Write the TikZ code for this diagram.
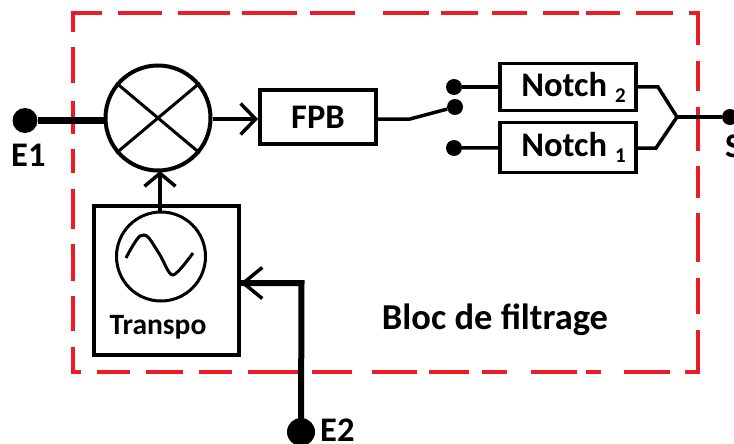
\documentclass[tikz,border=0pt]{standalone}
\usepackage{fontspec}
\setmainfont{Carlito}
\usetikzlibrary{arrows.meta}
\definecolor{mRed}{HTML}{ED1C24}
\tikzset{
  blockbox/.style={draw, line width=4pt, inner sep=0pt, font=\fontsize{34.5}{34.5}\bfseries\selectfont},
  notchbox/.style={draw, line width=3.5pt, inner sep=0pt, minimum width=136pt, font=\fontsize{34.5}{34.5}\bfseries\selectfont},
  terminal/.style={circle, fill=black, inner sep=0pt, minimum size=#1},
  barb/.style={-{Straight Barb[length=#1,width=31pt,line width=3.5pt]}},
  wire/.style={line width=3.5pt},
  frameline/.style={mRed, line width=4pt},
  pinlabel/.style={font=\fontsize{34.5}{34.5}\bfseries\selectfont, anchor=base west, inner sep=0pt}
}
\newcommand{\notchtext}[1]{\hspace{11pt}Notch\hspace{8pt}\raisebox{-6pt}{\fontsize{21}{21}\selectfont #1}}
\begin{document}
\begin{tikzpicture}[x=1pt, y=-1pt]
    \clip (0,0) rectangle (734,444);
    \useasboundingbox (0,0) rectangle (734,444);
    % hand drawn frame
    \draw[frameline] (73,32) -- (73,13.5) -- (102,13.5);
    \draw[frameline] (689,13.5) -- (698,13.5) -- (698,45);
    \draw[frameline] (685,372) -- (698,372) -- (698,330);
    \draw[frameline] (73,347) -- (73,372) -- (81,372);
    \foreach \a/\b in {118/162,178/230,242/297,310/355,383/429,441/478,492/527,543/579,586/620,636/673}
      \draw[frameline] (\a,13.5) -- (\b,13.5);
    \foreach \a/\b in {97/130,146/183,199/232,248/302,312/352,372/417,429/469,482/507,531/577,586/601,624/670}
      \draw[frameline] (\a,372) -- (\b,372);
    \foreach \a/\b in {47/83,101/134,149/173,189/229,244/281,296/331}
      \draw[frameline] (73,\a) -- (73,\b);
    \foreach \a/\b in {61/91,107/151,166/198,213/262,278/314}
      \draw[frameline] (698,\a) -- (698,\b);
    % blocks
    \node[circle, draw, line width=4pt, inner sep=0pt, minimum size=105pt] (mixer) at (158,118) {};
    \node[blockbox, minimum width=116pt, minimum height=54pt] (fpb) at (318,117) {FPB};
    \node[draw, line width=4pt, minimum width=145pt, minimum height=149pt] (transpo) at (166,280) {};
    \node[circle, draw, line width=3pt, inner sep=0pt, minimum size=89pt] (osc) at (161,256.5) {};
    \node[font=\fontsize{29.5}{29.5}\bfseries\selectfont, anchor=base] (transpotext) at (158,334) {Transpo};
    \node[notchbox, minimum height=47pt] (notchB) at (568,87) {\notchtext{2}};
    \node[notchbox, minimum height=50pt] (notchA) at (568,147.5) {\notchtext{1}};
    \draw[line width=3pt] (mixer.140) -- (mixer.-40);
    \draw[line width=3pt] (mixer.40) -- (mixer.-140);
    \draw[line width=3pt] plot[smooth, tension=0.5] coordinates {(126,258) (132,247) (140,236) (148,237) (160,255) (173,275) (193,253)};
    % terminals
    \node[terminal=25pt] (e1) at (25,120.5) {};
    \node[terminal=28pt] (e2) at (301,432) {};
    \node[terminal=16pt] (s) at (730,117) {};
    \node[terminal=16pt] (swB) at (454,87) {};
    \node[terminal=16pt] (swC) at (455,107) {};
    \node[terminal=16pt] (swA) at (454,148) {};
    \node[pinlabel] (e1text) at (11,166) {E1};
    \node[pinlabel] (e2text) at (320,441.5) {E2};
    \node[pinlabel] (stext) at (725,157) {S};
    \node[font=\fontsize{36.5}{36.5}\bfseries\selectfont, anchor=base] (bloctext) at (495,329.3) {Bloc de filtrage};
    % connectors
    \coordinate (swknee) at (410,119);
    \coordinate (join) at (677,117);
    \coordinate (bendB) at (658,87);
    \coordinate (bendA) at (656,148);
    \coordinate (e2knee) at (301.5,283);
    \draw[line width=7pt] (e1) -- (e1 -| mixer.west);
    \draw[wire, barb=15pt] (mixer.east |- swknee) -- (fpb.west |- swknee);
    \draw[wire, barb=13pt] (osc.north -| 160,0) -- (160,171);
    \draw[wire] (fpb.east |- swknee) -- (swknee) -- (swC);
    \draw[wire] (swB) -- (notchB);
    \draw[wire] (swA) -- (notchA);
    \draw[wire] (notchB.east |- bendB) -- (bendB) -- (join);
    \draw[wire] (notchA.east |- bendA) -- (bendA) -- (join);
    \draw[wire] (join) -- (s);
    \draw[line width=6pt] (e2) -- (e2knee) -- (transpo.east |- e2knee);
    \draw[wire, barb=19pt] (e2knee) -- (transpo.east |- e2knee);
  \end{tikzpicture}
\end{document}
